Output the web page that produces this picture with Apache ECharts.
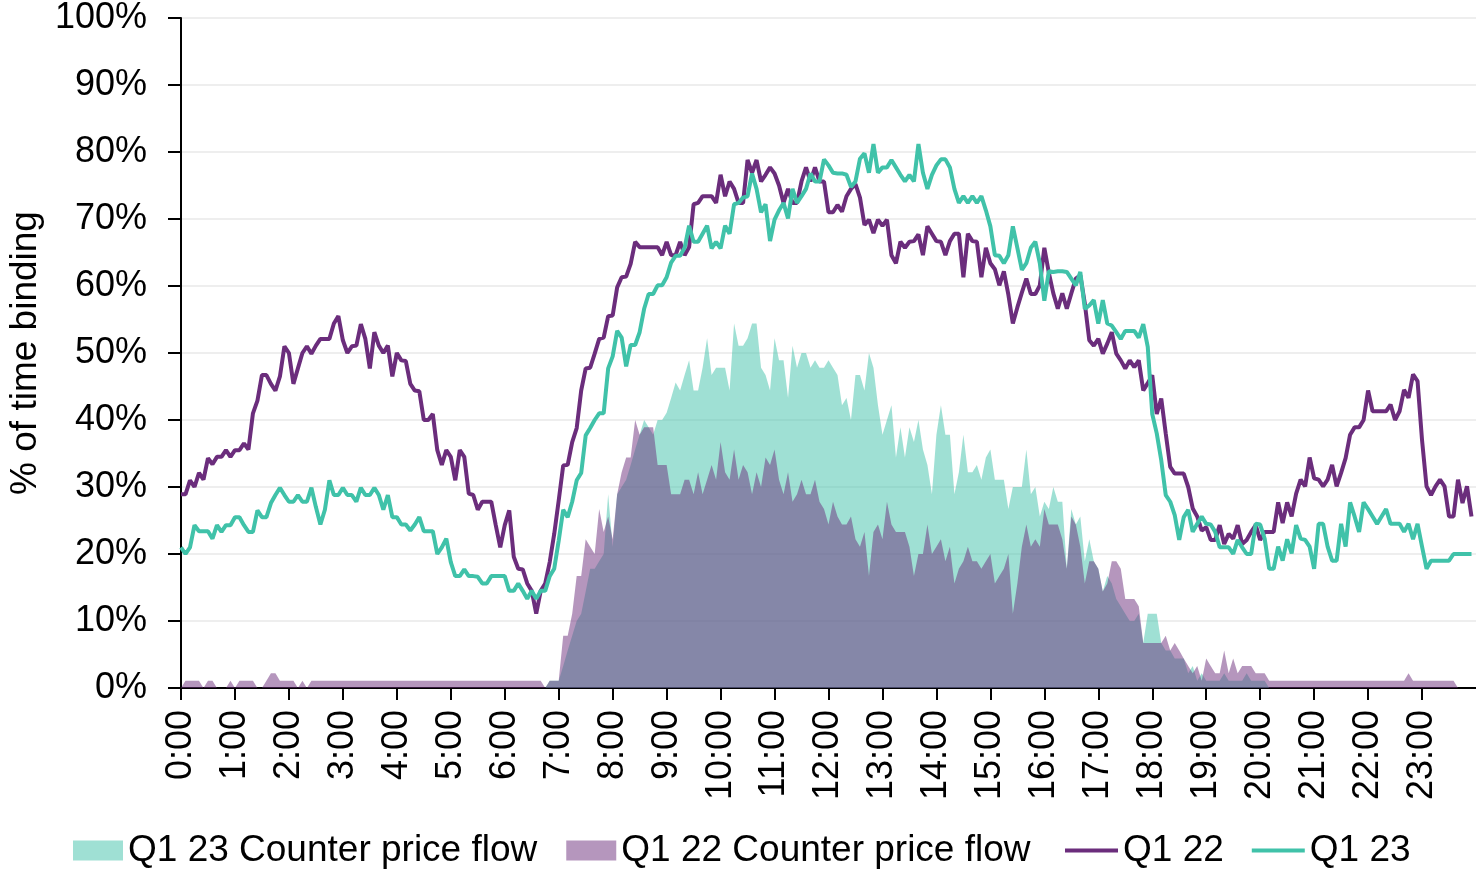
<!DOCTYPE html>
<html>
<head>
<meta charset="utf-8">
<script src="https://cdn.jsdelivr.net/npm/echarts@6/dist/echarts.min.js"></script>
<style>
  html, body { margin: 0; padding: 0; background: #fff; }
  #chart { width: 1476px; height: 870px; }
</style>
</head>
<body>
<div id="chart"></div>
<script>
// hour tick labels on the x axis
const hourLabels = ['0:00', '1:00', '2:00', '3:00', '4:00', '5:00', '6:00', '7:00', '8:00', '9:00', '10:00', '11:00',
  '12:00', '13:00', '14:00', '15:00', '16:00', '17:00', '18:00', '19:00', '20:00', '21:00', '22:00', '23:00']

// share of 5-minute slots in which the constraint was binding (%), one row per hour
const q22Line = [
  28.9, 28.9, 31.0, 30.0, 32.1, 31.1, 34.3, 33.4, 34.5, 34.5, 35.5, 34.5,
  35.5, 35.5, 36.5, 35.6, 41.0, 42.9, 46.7, 46.7, 45.4, 44.4, 46.5, 51.0,
  50.0, 45.4, 47.7, 50.0, 51.0, 49.9, 51.1, 52.1, 52.1, 52.1, 54.4, 55.5,
  51.9, 50.0, 51.0, 51.1, 54.3, 52.1, 47.7, 53.1, 51.1, 50.0, 51.1, 46.5,
  50.0, 48.9, 48.8, 45.4, 44.4, 44.3, 40.0, 40.0, 40.9, 35.5, 33.3, 35.5,
  34.5, 31.0, 35.5, 34.5, 29.0, 28.8, 26.6, 27.8, 27.8, 27.8, 24.3, 21.0,
  24.3, 26.5, 19.6, 17.8, 17.7, 15.6, 14.5, 11.1, 14.5, 15.6, 18.8, 23.0,
  28.0, 33.2, 33.3, 36.7, 38.8, 44.4, 47.7, 47.8, 49.9, 52.1, 52.3, 55.5,
  55.6, 59.8, 61.3, 61.4, 63.3, 66.6, 65.8, 65.8, 65.8, 65.8, 65.8, 64.6,
  66.6, 64.6, 64.6, 66.6, 64.6, 65.8, 72.2, 72.4, 73.4, 73.4, 73.4, 72.4,
  76.6, 73.4, 75.6, 74.5, 72.4, 72.4, 78.8, 76.9, 78.8, 75.6, 76.6, 77.7,
  76.8, 75.0, 72.4, 74.5, 72.4, 72.4, 75.6, 77.7, 75.6, 77.7, 75.6, 75.6,
  71.0, 71.0, 72.1, 71.1, 73.4, 74.5, 75.2, 73.2, 69.1, 69.9, 67.9, 69.9,
  69.0, 69.9, 64.6, 63.4, 66.6, 65.7, 66.6, 66.7, 67.7, 64.6, 68.9, 67.8,
  66.7, 66.6, 64.6, 66.7, 67.8, 67.8, 61.3, 67.8, 66.7, 66.6, 61.3, 65.7,
  63.4, 62.5, 60.1, 62.2, 58.7, 54.4, 56.8, 59.0, 61.1, 58.8, 58.8, 60.1,
  65.7, 62.0, 58.9, 56.6, 58.9, 56.6, 58.9, 61.1, 61.6, 57.4, 51.9, 51.1,
  52.1, 49.9, 51.4, 53.1, 49.9, 48.9, 47.7, 48.9, 47.9, 48.9, 44.4, 45.5,
  46.7, 40.9, 43.2, 38.0, 33.0, 32.0, 32.0, 32.0, 30.0, 26.8, 25.6, 23.5,
  24.0, 22.1, 22.1, 24.3, 21.5, 23.0, 22.3, 24.3, 21.5, 22.1, 23.3, 24.3,
  22.1, 23.3, 23.3, 23.3, 27.7, 24.6, 27.7, 25.6, 29.0, 31.1, 30.1, 34.4,
  31.3, 31.1, 30.1, 31.1, 33.3, 30.1, 32.1, 34.3, 37.8, 38.9, 38.9, 40.0,
  44.4, 41.3, 41.3, 41.3, 41.3, 42.3, 40.0, 41.3, 44.5, 43.3, 46.8, 45.8,
  37.0, 30.1, 28.8, 30.1, 31.1, 30.1, 25.6, 25.6, 31.1, 27.6, 30.1, 25.6
]

const q23Line = [
  21.0, 20.0, 21.0, 24.3, 23.4, 23.4, 23.4, 22.3, 24.3, 23.3, 24.3, 24.3,
  25.5, 25.5, 24.3, 23.3, 23.3, 26.5, 25.5, 25.5, 27.6, 28.8, 29.9, 28.8,
  27.8, 27.8, 28.8, 27.8, 27.8, 29.9, 27.0, 24.4, 26.6, 31.0, 28.8, 28.8,
  29.9, 28.8, 28.8, 27.8, 29.9, 28.8, 28.8, 29.9, 28.8, 26.6, 28.8, 25.5,
  25.5, 24.4, 24.4, 23.5, 24.4, 25.5, 23.4, 23.4, 23.4, 20.0, 21.0, 22.3,
  18.8, 16.7, 16.7, 17.7, 16.7, 16.7, 16.6, 15.6, 15.6, 16.7, 16.7, 16.7,
  16.7, 14.5, 14.5, 15.6, 14.5, 13.3, 14.5, 13.3, 14.5, 14.5, 16.7, 17.8,
  22.0, 26.6, 25.5, 27.8, 31.0, 32.1, 37.7, 38.8, 40.0, 41.0, 41.0, 47.7,
  49.5, 53.3, 52.3, 48.0, 51.2, 51.2, 53.1, 56.6, 58.8, 58.8, 60.1, 60.1,
  61.3, 63.5, 64.5, 64.5, 65.7, 69.0, 66.6, 66.6, 67.8, 69.0, 65.6, 66.6,
  65.6, 69.0, 67.8, 72.2, 72.4, 73.2, 73.4, 76.8, 74.5, 71.0, 72.2, 66.7,
  69.9, 71.3, 72.4, 70.1, 74.5, 72.4, 73.4, 74.5, 76.8, 75.6, 75.6, 78.9,
  78.0, 76.9, 76.8, 76.8, 76.6, 74.8, 75.6, 79.0, 79.8, 76.9, 81.2, 76.9,
  77.7, 77.7, 78.8, 77.7, 76.6, 75.6, 76.6, 75.6, 81.2, 76.9, 74.5, 76.6,
  78.0, 78.9, 78.9, 77.7, 74.5, 72.4, 73.4, 72.4, 73.4, 72.4, 73.4, 71.3,
  68.9, 64.6, 64.5, 63.4, 64.6, 68.9, 65.7, 62.4, 63.4, 65.7, 66.6, 63.4,
  57.8, 62.2, 62.1, 62.2, 62.2, 62.1, 61.1, 60.1, 62.1, 56.6, 57.1, 57.9,
  54.4, 57.9, 54.4, 54.1, 53.1, 52.1, 53.3, 53.3, 53.3, 52.3, 54.3, 50.9,
  40.9, 38.0, 34.0, 28.8, 27.8, 25.8, 22.1, 25.5, 26.6, 23.3, 24.5, 25.6,
  24.5, 24.4, 23.3, 21.0, 21.0, 21.0, 20.0, 22.1, 21.0, 20.0, 20.0, 24.5,
  24.4, 22.3, 17.8, 17.8, 21.1, 19.0, 22.2, 20.1, 24.3, 22.3, 22.1, 21.1,
  17.8, 24.5, 24.5, 21.1, 19.0, 19.0, 24.5, 21.1, 27.7, 25.6, 23.3, 27.7,
  26.7, 25.6, 24.5, 25.6, 26.7, 24.5, 24.5, 24.5, 23.3, 24.5, 22.2, 24.5,
  21.1, 17.8, 19.0, 19.0, 19.0, 19.0, 19.0, 20.0, 20.0, 20.0, 20.0, 20.0
]

// counter price flow shares (%)
const q23Flow = [
  0, 0, 0, 0, 0, 0, 0, 0, 0, 0, 0, 0,
  0, 0, 0, 0, 0, 0, 0, 0, 0, 0, 0, 0,
  0, 0, 0, 0, 0, 0, 0, 0, 0, 0, 0, 0,
  0, 0, 0, 0, 0, 0, 0, 0, 0, 0, 0, 0,
  0, 0, 0, 0, 0, 0, 0, 0, 0, 0, 0, 0,
  0, 0, 0, 0, 0, 0, 0, 0, 0, 0, 0, 0,
  0, 0, 0, 0, 0, 0, 0, 0, 0, 0, 1.1, 1.1,
  1.1, 3.3, 5.6, 7.8, 10.0, 11.1, 14.4, 17.8, 17.8, 18.9, 20.0, 28.9,
  21.1, 28.9, 30.0, 31.1, 33.3, 35.6, 37.8, 40.0, 38.9, 37.8, 40.0, 40.0,
  41.1, 43.3, 45.6, 44.4, 46.7, 48.9, 44.4, 44.4, 47.8, 52.2, 46.7, 47.8,
  47.8, 47.8, 44.4, 54.4, 51.1, 51.1, 52.2, 54.4, 54.4, 47.8, 46.7, 44.4,
  52.2, 48.9, 48.9, 43.3, 51.1, 47.8, 50.0, 50.0, 47.8, 48.9, 47.8, 47.8,
  48.9, 47.8, 46.7, 42.2, 43.3, 40.0, 46.7, 46.7, 44.4, 50.0, 47.8, 42.2,
  37.8, 40.0, 42.2, 34.4, 38.9, 34.4, 38.9, 36.7, 40.0, 35.6, 33.3, 28.9,
  37.8, 42.2, 37.8, 37.8, 28.9, 32.2, 37.8, 32.2, 32.2, 33.3, 31.1, 34.4,
  35.6, 31.1, 31.1, 31.1, 26.7, 30.0, 30.0, 30.0, 35.6, 28.9, 30.0, 25.6,
  27.8, 26.7, 30.0, 27.8, 27.8, 17.8, 26.7, 24.4, 25.6, 18.9, 22.2, 18.9,
  17.8, 14.4, 16.7, 15.6, 13.3, 12.2, 11.1, 10.0, 10.0, 11.1, 6.7, 11.1,
  11.1, 11.1, 6.7, 5.6, 5.6, 4.4, 4.4, 4.4, 2.2, 3.3, 1.1, 2.2,
  1.1, 1.1, 1.1, 1.1, 2.2, 1.1, 1.1, 1.1, 1.1, 2.2, 1.1, 1.1,
  1.1, 1.1, 0, 0, 0, 0, 0, 0, 0, 0, 0, 0,
  0, 0, 0, 0, 0, 0, 0, 0, 0, 0, 0, 0,
  0, 0, 0, 0, 0, 0, 0, 0, 0, 0, 0, 0,
  0, 0, 0, 0, 0, 0, 0, 0, 0, 0, 0, 0
]

const q22Flow = [
  0, 1.1, 1.1, 1.1, 1.1, 0, 1.1, 1.1, 0, 0, 0, 1.1,
  0, 1.1, 1.1, 1.1, 1.1, 0, 0, 1.1, 2.2, 2.2, 1.1, 1.1,
  1.1, 1.1, 0, 1.1, 0, 1.1, 1.1, 1.1, 1.1, 1.1, 1.1, 1.1,
  1.1, 1.1, 1.1, 1.1, 1.1, 1.1, 1.1, 1.1, 1.1, 1.1, 1.1, 1.1,
  1.1, 1.1, 1.1, 1.1, 1.1, 1.1, 1.1, 1.1, 1.1, 1.1, 1.1, 1.1,
  1.1, 1.1, 1.1, 1.1, 1.1, 1.1, 1.1, 1.1, 1.1, 1.1, 1.1, 1.1,
  1.1, 1.1, 1.1, 1.1, 1.1, 1.1, 1.1, 1.1, 1.1, 0, 1.1, 1.1,
  1.1, 7.8, 7.8, 11.1, 16.7, 16.7, 22.2, 21.1, 20.0, 26.7, 23.3, 25.6,
  22.2, 28.9, 32.2, 34.4, 34.4, 40.0, 37.8, 38.9, 38.9, 38.9, 33.3, 33.3,
  33.3, 28.9, 28.9, 28.9, 31.1, 31.1, 28.9, 32.2, 28.9, 31.1, 33.3, 31.1,
  36.7, 32.2, 31.1, 35.6, 31.1, 33.3, 32.2, 28.9, 32.2, 30.0, 34.4, 33.3,
  35.6, 31.1, 28.9, 32.2, 27.8, 28.9, 31.1, 28.9, 28.9, 31.1, 27.8, 26.7,
  24.4, 27.8, 25.6, 24.4, 24.4, 25.6, 22.2, 21.1, 23.3, 16.7, 23.3, 24.4,
  22.2, 27.8, 24.4, 23.3, 23.3, 23.3, 21.1, 16.7, 20.0, 20.0, 24.4, 20.0,
  21.1, 22.2, 18.9, 21.1, 15.6, 17.8, 18.9, 21.1, 18.9, 18.9, 17.8, 18.9,
  20.0, 15.6, 16.7, 17.8, 20.0, 11.1, 15.6, 21.1, 24.4, 21.1, 22.2, 21.1,
  26.7, 24.4, 24.4, 24.4, 22.2, 17.8, 25.6, 24.4, 21.1, 15.6, 18.9, 18.9,
  17.8, 14.4, 15.6, 18.9, 18.9, 17.8, 13.3, 13.3, 13.3, 12.2, 6.7, 6.7,
  6.7, 6.7, 6.7, 7.8, 5.6, 6.7, 5.6, 4.4, 3.3, 2.2, 3.3, 1.1,
  4.4, 3.3, 2.2, 2.2, 5.6, 2.2, 4.4, 2.2, 3.3, 3.3, 3.3, 2.2,
  2.2, 2.2, 1.1, 1.1, 1.1, 1.1, 1.1, 1.1, 1.1, 1.1, 1.1, 1.1,
  1.1, 1.1, 1.1, 1.1, 1.1, 1.1, 1.1, 1.1, 1.1, 1.1, 1.1, 1.1,
  1.1, 1.1, 1.1, 1.1, 1.1, 1.1, 1.1, 1.1, 1.1, 2.2, 1.1, 1.1,
  1.1, 1.1, 1.1, 1.1, 1.1, 1.1, 1.1, 1.1, 0, 0, 0, 0
]

const yTicks = [0, 10, 20, 30, 40, 50, 60, 70, 80, 90, 100]

// 5-minute slots; one extra slot at the end so the axis runs to 24:00
const slots = []
hourLabels.forEach(h => {
  const hh = h.split(':')[0]
  for (let m = 0; m < 60; m += 5) slots.push(hh + ':' + String(m).padStart(2, '0'))
})
slots.push('24:00')

const FONT = "'Liberation Sans', Arial, sans-serif"
const PURPLE = '#6B2D7C'
const TEAL = '#40C2A9'
const TEAL_FILL = 'rgba(64,194,169,0.5)'
const PURPLE_FILL = 'rgba(107,45,124,0.5)'

const onHour = i => i % 12 === 0 && i < 288

const legendText = { fontSize: 37, color: '#000', fontFamily: FONT }

const chart = echarts.init(document.getElementById('chart'), null, { renderer: 'canvas' })

chart.setOption({
  animation: false,
  backgroundColor: '#fff',
  textStyle: { fontFamily: FONT },
  grid: { left: 181, right: 0, top: 18, bottom: 182, outerBoundsMode: 'none' },
  legend: [
    {
      // filled areas: square swatches
      top: 832,
      left: 73,
      padding: 0,
      itemWidth: 50,
      itemHeight: 20,
      itemGap: 29,
      textStyle: legendText,
      data: [
        { name: 'Q1 23 Counter price flow', icon: 'rect', itemStyle: { color: TEAL_FILL } },
        { name: 'Q1 22 Counter price flow', icon: 'rect', itemStyle: { color: PURPLE_FILL } }
      ]
    },
    {
      // lines: thin bar swatches
      top: 832,
      left: 1065,
      padding: 0,
      itemWidth: 53,
      itemHeight: 4,
      itemGap: 28,
      textStyle: legendText,
      data: [
        { name: 'Q1 22', icon: 'rect', itemStyle: { color: PURPLE } },
        { name: 'Q1 23', icon: 'rect', itemStyle: { color: TEAL } }
      ]
    }
  ],
  xAxis: {
    type: 'category',
    boundaryGap: false,
    data: slots,
    axisLine: { lineStyle: { color: '#000', width: 2 } },
    axisTick: { interval: onHour, length: 12, lineStyle: { color: '#000', width: 2 } },
    axisLabel: {
      interval: onHour,
      rotate: 90,
      margin: 22,
      fontSize: 36,
      color: '#000',
      fontFamily: FONT
    },
    splitLine: { show: false }
  },
  yAxis: {
    type: 'value',
    min: yTicks[0],
    max: yTicks[yTicks.length - 1],
    interval: 10,
    name: '% of time binding',
    nameLocation: 'middle',
    nameRotate: 90,
    nameGap: 128,
    nameTextStyle: { fontSize: 37, color: '#000', fontFamily: FONT },
    axisLine: { show: true, lineStyle: { color: '#000', width: 2 } },
    axisTick: { show: true, length: 13, lineStyle: { color: '#000', width: 2 } },
    axisLabel: { formatter: '{value}%', margin: 34, fontSize: 36, color: '#000', fontFamily: FONT },
    splitLine: { lineStyle: { color: '#EEEEEE', width: 2 } }
  },
  series: [
    {
      name: 'Q1 23 Counter price flow',
      type: 'line',
      data: q23Flow,
      symbol: 'none',
      silent: true,
      itemStyle: { color: TEAL_FILL },
      lineStyle: { width: 0 },
      areaStyle: { color: TEAL_FILL, opacity: 1 }
    },
    {
      name: 'Q1 22 Counter price flow',
      type: 'line',
      data: q22Flow,
      symbol: 'none',
      silent: true,
      itemStyle: { color: PURPLE_FILL },
      lineStyle: { width: 0 },
      areaStyle: { color: PURPLE_FILL, opacity: 1 }
    },
    {
      name: 'Q1 22',
      type: 'line',
      data: q22Line,
      symbol: 'none',
      silent: true,
      itemStyle: { color: PURPLE },
      lineStyle: { color: PURPLE, width: 4 }
    },
    {
      name: 'Q1 23',
      type: 'line',
      data: q23Line,
      symbol: 'none',
      silent: true,
      itemStyle: { color: TEAL },
      lineStyle: { color: TEAL, width: 4 }
    }
  ]
})
</script>
</body>
</html>
